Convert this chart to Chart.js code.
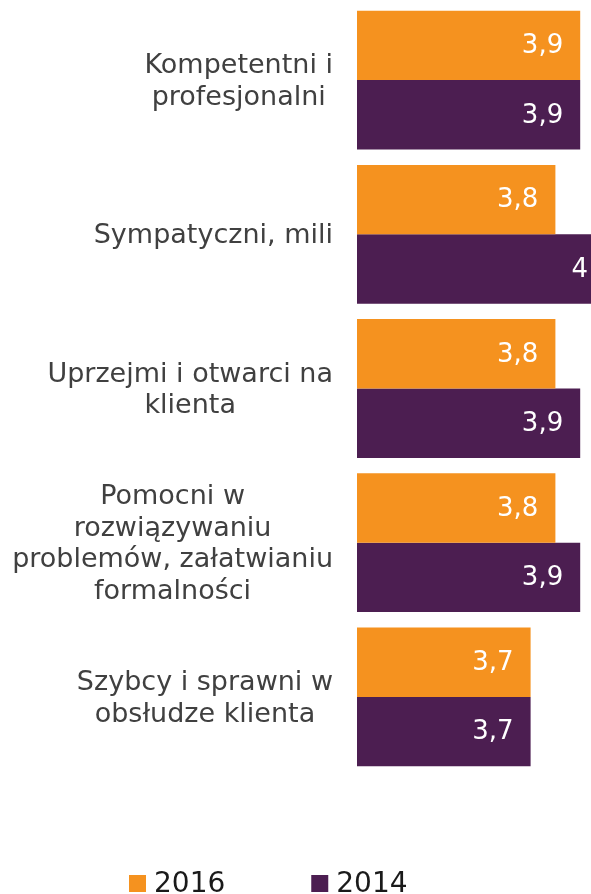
<!DOCTYPE html>
<html>
<head>
<meta charset="utf-8">
<script src="https://cdn.jsdelivr.net/npm/chart.js@4"></script>
<style>
  html, body { margin: 0; padding: 0; background: #fff; overflow: hidden; }
  #wrap { position: absolute; left: 0; top: 0; width: 612px; height: 894px; }
</style>
</head>
<body>
<div id="wrap"><canvas id="grafico"></canvas></div>
<script>
const categorie = [
    ['Kompetentni i', 'profesjonalni'],
    ['Sympatyczni, mili'],
    ['Uprzejmi i otwarci na', 'klienta'],
    ['Pomocni w', 'rozwiązywaniu', 'problemów, załatwianiu', 'formalności'],
    ['Szybcy i sprawni w', 'obsłudze klienta']
];
const valori2016 = [3.9, 3.8, 3.8, 3.8, 3.7];
const valori2014 = [3.9, 4, 3.9, 3.9, 3.7];
const anni = ['2016', '2014'];
const colori = ['#F5921F', '#4C1E51'];

const FONT = '"DejaVu Sans", Verdana, sans-serif';

// etichette a sinistra: blocco allineato a destra, righe centrate
const etichetteY = {
    id: 'etichetteY',
    afterDraw(chart) {
        const ctx = chart.ctx, y = chart.scales.y;
        const destra = 333, lh = 31.5;
        ctx.save();
        ctx.font = '27px ' + FONT;
        ctx.fillStyle = '#404040';
        ctx.textAlign = 'center';
        ctx.textBaseline = 'middle';
        chart.data.labels.forEach((righe, i) => {
            const w = Math.max(...righe.map(r => ctx.measureText(r).width));
            const cx = destra - w / 2;
            const cy = y.getPixelForTick(i) + 2;
            righe.forEach((r, k) => {
                ctx.fillText(r, cx, cy + (k - (righe.length - 1) / 2) * lh);
            });
        });
        ctx.restore();
    }
};

// valori dentro le barre
const valoriBarre = {
    id: 'valoriBarre',
    afterDatasetsDraw(chart) {
        const ctx = chart.ctx;
        ctx.save();
        ctx.font = '26px ' + FONT;
        ctx.fillStyle = '#ffffff';
        ctx.textAlign = 'right';
        ctx.textBaseline = 'middle';
        chart.data.datasets.forEach((ds, d) => {
            chart.getDatasetMeta(d).data.forEach((bar, i) => {
                const fine = Math.min(bar.x, chart.chartArea.right);
                ctx.fillText(String(ds.data[i]).replace('.', ','), fine - 17, bar.y + 1);
            });
        });
        ctx.restore();
    }
};

// legenda in basso
const legenda = {
    id: 'legenda',
    afterDraw(chart) {
        const ctx = chart.ctx;
        let x = 129;
        const yBox = 875, box = 17;
        ctx.save();
        ctx.font = '28px ' + FONT;
        ctx.textBaseline = 'alphabetic';
        ctx.textAlign = 'left';
        chart.data.datasets.forEach(ds => {
            ctx.fillStyle = ds.backgroundColor;
            ctx.fillRect(x, yBox, box, box);
            ctx.fillStyle = '#1a1a1a';
            ctx.fillText(ds.label, x + box + 8, 892);
            x += box + 8 + ctx.measureText(ds.label).width + 86;
        });
        ctx.restore();
    }
};

new Chart(document.getElementById('grafico').getContext('2d'), {
    type: 'bar',
    data: {
        labels: categorie,
        datasets: [
            { label: anni[0], data: valori2016, backgroundColor: colori[0], borderWidth: 0 },
            { label: anni[1], data: valori2014, backgroundColor: colori[1], borderWidth: 0 }
        ]
    },
    options: {
        indexAxis: 'y',
        responsive: true,
        maintainAspectRatio: false,
        animation: false,
        layout: { padding: { left: 357, right: 7, top: 3, bottom: 120 } },
        datasets: { bar: { categoryPercentage: 0.9, barPercentage: 1.0 } },
        plugins: { legend: { display: false }, tooltip: { enabled: false } },
        scales: {
            x: { min: 3, max: 4, display: false },
            y: { display: false }
        }
    },
    plugins: [etichetteY, valoriBarre, legenda]
});
</script>
</body>
</html>
